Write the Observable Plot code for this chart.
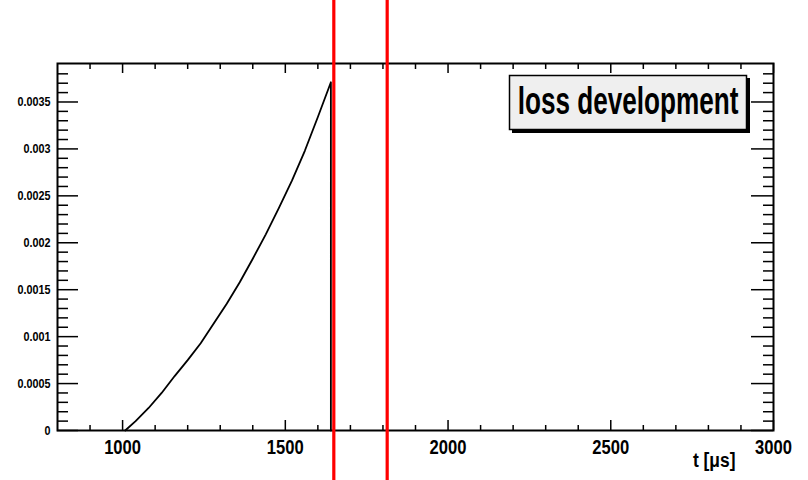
<!DOCTYPE html>
<html>
<head>
<meta charset="utf-8">
<script src="https://cdn.jsdelivr.net/npm/d3@7"></script>
<script src="https://cdn.jsdelivr.net/npm/@observablehq/plot@0.6"></script>
<style>
  body { margin: 0; background: white; }
</style>
</head>
<body>
<div id="chart"></div>
<script>
// Curve: loss development (t in µs, value)
const tValues = [1008, 1040, 1080, 1120, 1160, 1200, 1240, 1280, 1320, 1360, 1400, 1440, 1480, 1520, 1560, 1600, 1640, 1640];
const lossValues = [0, 0.00010, 0.00024, 0.00040, 0.00058, 0.00075, 0.00093, 0.00114, 0.00135, 0.00158, 0.00183, 0.00209, 0.00237, 0.00266, 0.00298, 0.00334, 0.00371, 0];

// Red vertical markers
const redLines = [1649, 1813];

// Axis ticks
const xMajor = [1000, 1500, 2000, 2500, 3000];
const xMinor = [900, 1100, 1200, 1300, 1400, 1600, 1700, 1800, 1900, 2100, 2200, 2300, 2400, 2600, 2700, 2800, 2900];
const yMajor = [0, 0.0005, 0.001, 0.0015, 0.002, 0.0025, 0.003, 0.0035];
const yMinor = [0.0001, 0.0002, 0.0003, 0.0004, 0.0006, 0.0007, 0.0008, 0.0009, 0.0011, 0.0012, 0.0013, 0.0014,
  0.0016, 0.0017, 0.0018, 0.0019, 0.0021, 0.0022, 0.0023, 0.0024, 0.0026, 0.0027, 0.0028, 0.0029,
  0.0031, 0.0032, 0.0033, 0.0034, 0.0036, 0.0037, 0.0038];

const titleText = "loss development";
const xTitle = "t [\u03bcs]";

const data = tValues.map((t, i) => ({t, v: lossValues[i]}));

const FW = 716, FH = 367;

const chart = Plot.plot({
  width: 808,
  height: 480,
  marginLeft: 57,
  marginRight: 35,
  marginTop: 63,
  marginBottom: 50,
  style: {fontFamily: "'Liberation Sans', Arial, sans-serif", fontWeight: "bold", background: "white", color: "black"},
  x: {domain: [800, 3000], label: null},
  y: {domain: [0, 0.00391], label: null},
  marks: [
    // ticks (inward)
    Plot.ruleX(xMajor, {stroke: "black", strokeWidth: 1.5, insetTop: FH - 10}),
    Plot.ruleX(xMinor, {stroke: "black", strokeWidth: 1.5, insetTop: FH - 5}),
    Plot.ruleX(xMajor, {stroke: "black", strokeWidth: 1.5, insetBottom: FH - 10}),
    Plot.ruleX(xMinor, {stroke: "black", strokeWidth: 1.5, insetBottom: FH - 6}),
    Plot.ruleY(yMajor, {stroke: "black", strokeWidth: 1.5, insetRight: FW - 21}),
    Plot.ruleY(yMinor, {stroke: "black", strokeWidth: 1.5, insetRight: FW - 11}),
    Plot.ruleY(yMajor, {stroke: "black", strokeWidth: 1.5, insetLeft: FW - 22}),
    Plot.ruleY(yMinor, {stroke: "black", strokeWidth: 1.5, insetLeft: FW - 10}),
    Plot.axisX(xMajor, {tickSize: 0, tickPadding: 9, fontSize: 20, fontWeight: "bold", tickFormat: d => String(d)}),
    Plot.axisY(yMajor, {tickSize: 0, tickPadding: 7, fontSize: 13, fontWeight: "bold", tickFormat: d => String(d)}),
    Plot.line(data, {x: "t", y: "v", stroke: "black", strokeWidth: 1.8}),
    Plot.frame({stroke: "black", strokeWidth: 2}),
    // legend box with shadow
    Plot.frame({fill: "black", stroke: "black", insetLeft: 455, insetRight: 24, insetTop: 15, insetBottom: 298}),
    Plot.frame({fill: "#efefef", stroke: "black", strokeWidth: 1.5, insetLeft: 452, insetRight: 27, insetTop: 12, insetBottom: 301}),
    Plot.text([titleText], {frameAnchor: "top", dx: 212.5, dy: 24, lineAnchor: "top", fontSize: 38, fontWeight: "bold", fill: "black"}),
    Plot.text([xTitle], {frameAnchor: "bottom-right", dx: -38, dy: 36, textAnchor: "end", lineAnchor: "bottom", fontSize: 21, fontWeight: "bold", fill: "black"}),
    Plot.ruleX(redLines, {stroke: "#ff0000", strokeWidth: 3.2, insetTop: -63, insetBottom: -50})
  ]
});

document.getElementById("chart").appendChild(chart);

// Condense the text horizontally like the reference's narrow font
d3.select(chart).selectAll("text").each(function() {
  const bb = this.getBBox();
  if (!bb.width) return;
  const anchor = getComputedStyle(this).textAnchor;
  let sx = 0.83;
  if (this.textContent === titleText) sx = 221 / bb.width;
  const ax = anchor === "end" ? bb.x + bb.width : anchor === "middle" ? bb.x + bb.width / 2 : bb.x;
  const prev = this.getAttribute("transform") || "";
  this.setAttribute("transform", `${prev} translate(${ax},0) scale(${sx},1) translate(${-ax},0)`.trim());
});
</script>
</body>
</html>
